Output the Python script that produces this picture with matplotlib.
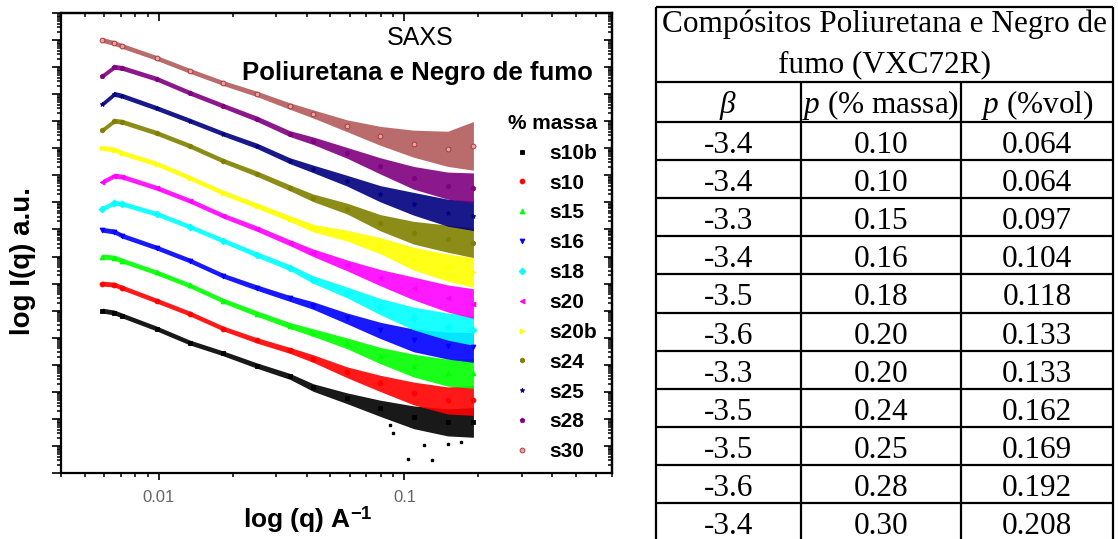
import numpy as np
import matplotlib
matplotlib.use('Agg')
import matplotlib.pyplot as plt
from matplotlib.ticker import LogLocator, NullFormatter, FuncFormatter

plt.rcParams['font.family'] = ['Liberation Sans', 'DejaVu Sans']
plt.rcParams['mathtext.fontset'] = 'custom'
plt.rcParams['mathtext.rm'] = 'Liberation Sans'
plt.rcParams['mathtext.bf'] = 'Liberation Sans:bold'
plt.rcParams['mathtext.it'] = 'Liberation Serif:italic'

q = [0.0059, 0.0066, 0.0071, 0.0098, 0.0134, 0.0183, 0.0251, 0.0342,
     0.0425, 0.0585, 0.0798, 0.109, 0.150, 0.191]

# log10 I(q), stacked one decade apart
s10b = [6.00, 5.93, 5.82, 5.34, 4.82, 4.42, 3.97, 3.57, 3.16, 2.76, 2.39, 2.06, 1.87, 1.87]
s10  = [7.00, 6.96, 6.85, 6.37, 5.89, 5.34, 4.90, 4.53, 4.23, 3.72, 3.31, 2.94, 2.68, 2.68]
s15  = [8.00, 7.96, 7.85, 7.41, 6.93, 6.37, 5.89, 5.45, 5.19, 4.79, 4.34, 3.97, 3.71, 3.68]
s16  = [8.99, 8.92, 8.77, 8.33, 7.85, 7.29, 6.85, 6.45, 6.19, 5.71, 5.27, 4.90, 4.71, 4.64]
s18  = [9.77, 9.99, 9.95, 9.58, 9.10, 8.59, 8.07, 7.59, 7.15, 6.67, 6.15, 5.71, 5.41, 5.27]
s20  = [10.76, 10.99, 10.95, 10.54, 10.06, 9.51, 9.03, 8.51, 8.14, 7.67, 7.22, 6.82, 6.45, 6.26]
s20b = [12.02, 11.95, 11.83, 11.43, 10.91, 10.36, 9.88, 9.40, 9.05, 8.77, 8.40, 7.92, 7.59, 7.41]
s24  = [12.68, 13.02, 12.98, 12.57, 12.09, 11.54, 11.06, 10.54, 10.17, 9.77, 9.25, 8.88, 8.66, 8.51]
s25  = [13.64, 14.01, 13.94, 13.49, 13.02, 12.54, 12.09, 11.54, 11.24, 10.80, 10.32, 9.95, 9.62, 9.51]
s28  = [14.68, 15.01, 14.97, 14.57, 14.05, 13.57, 13.09, 12.54, 12.28, 11.83, 11.35, 10.91, 10.62, 10.54]
s30  = [16.00, 15.89, 15.78, 15.34, 14.86, 14.41, 14.01, 13.56, 13.27, 12.83, 12.46, 12.17, 11.98, 12.09]

# half width of the noisy band (decades)
spread     = [0.09, 0.09, 0.09, 0.09, 0.09, 0.09, 0.10, 0.11, 0.14, 0.2, 0.3, 0.42, 0.5, 0.55]
spread_s30 = [0.09, 0.09, 0.09, 0.09, 0.09, 0.09, 0.10, 0.12, 0.15, 0.22, 0.35, 0.5, 0.65, 0.9]

# stray points under s10b
out_q = [0.0877, 0.090, 0.1037, 0.1197, 0.130, 0.150, 0.1694]
out_I = [1.76, 1.46, 0.51, 1.02, 0.47, 1.09, 1.13]

names = ['s10b', 's10', 's15', 's16', 's18', 's20', 's20b', 's24', 's25', 's28', 's30']
series = [s10b, s10, s15, s16, s18, s20, s20b, s24, s25, s28, s30]
colors = ['#000000', '#FF0000', '#00FF00', '#0000FF', '#00FFFF', '#FF00FF',
          '#FFFF00', '#808000', '#000080', '#800080', '#B35C5C']
edges = colors[:-1] + ['#A03030']
faces = colors[:-1] + ['#E8A0A0']
markers = ['s', 'o', '^', 'v', 'D', '<', '>', 'h', '*', 'p', 'o']

# table
beta    = [-3.4, -3.4, -3.3, -3.4, -3.5, -3.6, -3.3, -3.5, -3.5, -3.6, -3.4]
p_massa = [0.10, 0.10, 0.15, 0.16, 0.18, 0.20, 0.20, 0.24, 0.25, 0.28, 0.30]
p_vol   = [0.064, 0.064, 0.097, 0.104, 0.118, 0.133, 0.133, 0.162, 0.169, 0.192, 0.208]

W, H = 1118, 539
fig = plt.figure(figsize=(W / 100, H / 100), dpi=100)
ax = fig.add_axes([61 / W, 1 - 473 / H, 551 / W, 460 / H])
ax.set_xscale('log')
ax.set_yscale('log')

for i, name in enumerate(names):
    c = np.array(series[i])
    s = np.array(spread_s30 if name == 's30' else spread)
    ax.fill_between(q, 10 ** (c - s), 10 ** (c + s), color=colors[i], lw=0, alpha=0.9, zorder=2)
    ax.plot(q, 10 ** c, linestyle='none', marker=markers[i], ms=3.5, mfc=faces[i],
            mec=edges[i], mew=0.6, label=name, zorder=3)
ax.plot(out_q, 10 ** np.array(out_I), linestyle='none', marker='s', ms=1.8,
        color='black', zorder=3)

ax.set_xlim(0.004, 0.7)
ax.set_ylim(1, 1e17)

ax.xaxis.set_major_locator(LogLocator(base=10, numticks=10))
ax.xaxis.set_minor_locator(LogLocator(base=10, subs=np.arange(2, 10), numticks=50))
ax.xaxis.set_major_formatter(FuncFormatter(lambda v, p: '%g' % v))
ax.xaxis.set_minor_formatter(NullFormatter())
ax.yaxis.set_major_locator(LogLocator(base=10, numticks=30))
ax.yaxis.set_minor_locator(LogLocator(base=10, subs=np.arange(2, 10), numticks=200))
ax.yaxis.set_major_formatter(NullFormatter())
ax.yaxis.set_minor_formatter(NullFormatter())

for sp in ax.spines.values():
    sp.set_linewidth(1.6)
ax.tick_params(axis='x', which='major', direction='out', length=5, width=1.2,
               labelsize=12, labelcolor='#666666', pad=7)
ax.tick_params(axis='x', which='minor', direction='out', length=3, width=1.1)
ax.tick_params(axis='y', which='major', direction='out', length=6.5, width=1.2)
ax.tick_params(axis='y', which='minor', direction='out', length=3, width=1.1)

top = ax.secondary_xaxis('top')
top.xaxis.set_major_locator(LogLocator(base=10, numticks=10))
top.xaxis.set_minor_locator(LogLocator(base=10, subs=np.arange(2, 10), numticks=50))
top.tick_params(which='major', direction='in', length=6, width=1.2, labeltop=False)
top.tick_params(which='minor', direction='in', length=3, width=1.1, labeltop=False)
top.spines['top'].set_linewidth(1.6)

right = ax.secondary_yaxis('right')
right.yaxis.set_major_locator(LogLocator(base=10, numticks=30))
right.yaxis.set_minor_locator(LogLocator(base=10, subs=np.arange(2, 10), numticks=200))
right.tick_params(which='major', direction='in', length=6, width=1.2, labelright=False)
right.tick_params(which='minor', direction='in', length=3, width=1.1, labelright=False)
right.spines['right'].set_linewidth(1.6)

ax.set_ylabel('log I(q) a.u.', fontsize=20, weight='bold')
ax.yaxis.set_label_coords(-0.045, 0.46)
ax.set_xlabel(r'log (q) A$^{\mathbf{-1}}$', fontsize=19, weight='bold')
ax.xaxis.set_label_coords(0.448, -0.068)

fig.text(420 / W, 1 - 38 / H, 'SAXS', ha='center', va='center', fontsize=18)
fig.text(417 / W, 1 - 73 / H, 'Poliuretana e Negro de fumo', ha='center', va='center',
         fontsize=18.5, weight='bold')

handles, labels = ax.get_legend_handles_labels()
ax.legend(handles, labels, loc='upper right', bbox_to_anchor=(597 / W, 1 - 114 / H),
          bbox_transform=fig.transFigure, title='% massa', frameon=False,
          prop={'size': 15, 'weight': 'bold'},
          title_fontproperties={'size': 15, 'weight': 'bold'},
          handlelength=1.0, handletextpad=0.8, labelspacing=0.52,
          borderpad=0, borderaxespad=0, alignment='right')

# table drawn in pixel coordinates
tab = fig.add_axes([0, 0, 1, 1])
tab.set_xlim(0, W)
tab.set_ylim(H, 0)
tab.axis('off')
x0, x1, x2, x3 = 656, 801, 961, 1113
y_top, y_title, y_head, row_h = 7, 82, 122, 38.1
lw = 1.6
rows = [y_head + row_h * k for k in range(1, len(beta))]
tab.hlines([y_top, y_title, y_head] + rows, x0, x3, color='black', lw=lw)
tab.vlines([x0, x3], y_top, H + 2, color='black', lw=lw)
tab.vlines([x1, x2], y_title, H + 2, color='black', lw=lw)

serif = ['Liberation Serif', 'DejaVu Serif']
fs = 22.5
xc = [(x0 + x1) / 2, (x1 + x2) / 2, (x2 + x3) / 2]
tab.text((x0 + x3) / 2, 32, 'Compósitos Poliuretana e Negro de', ha='center',
         va='baseline', fontsize=fs, family=serif)
tab.text((x0 + x3) / 2, 72, 'fumo (VXC72R)', ha='center', va='baseline',
         fontsize=fs, family=serif)
for xx, t in zip(xc, [r'$\beta$', r'$p$ (% massa)', r'$p$ (%vol)']):
    tab.text(xx, 113, t, ha='center', va='baseline', fontsize=fs, family=serif)
for k in range(len(beta)):
    yb = y_head + row_h * k + 31
    tab.text(xc[0], yb, '%.1f' % beta[k], ha='center', va='baseline', fontsize=fs, family=serif)
    tab.text(xc[1], yb, '%.2f' % p_massa[k], ha='center', va='baseline', fontsize=fs, family=serif)
    tab.text(xc[2], yb, '%.3f' % p_vol[k], ha='center', va='baseline', fontsize=fs, family=serif)

fig.savefig('out.png', dpi=100)
